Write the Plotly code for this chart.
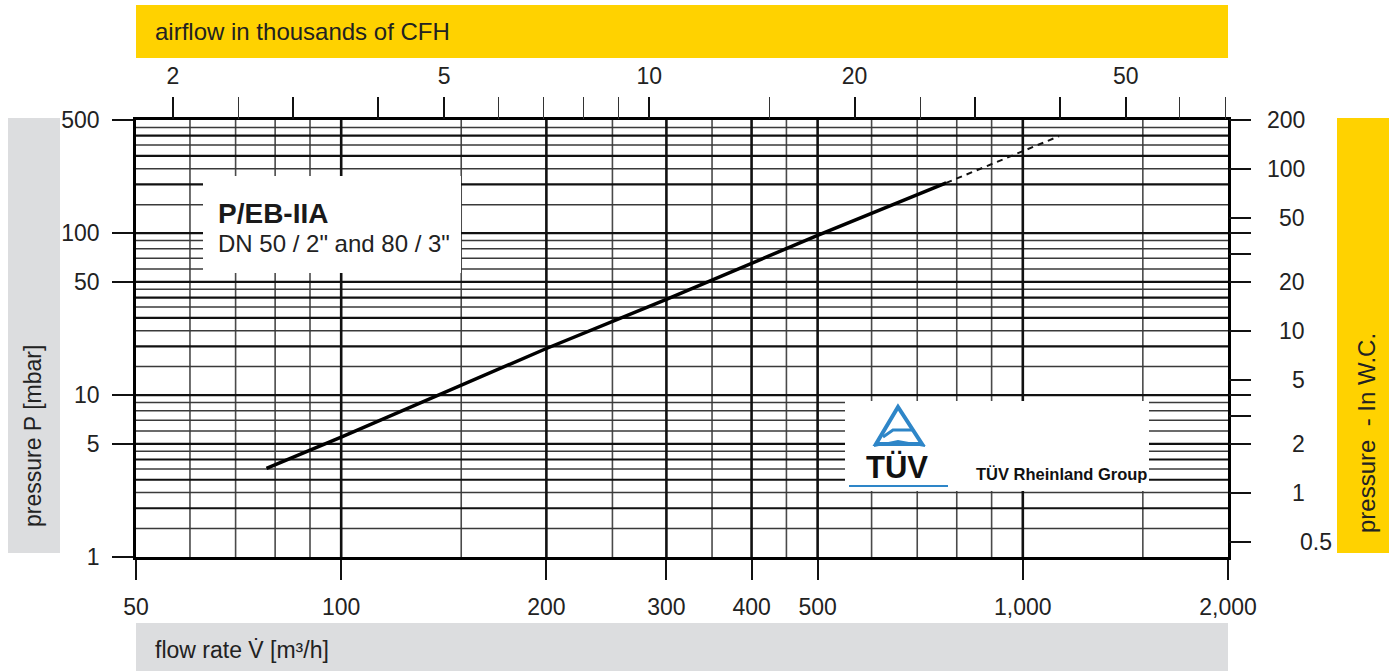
import math
import plotly.graph_objects as go

# ---------------- data ----------------
# flow rate [m3/h] vs pressure drop [mbar]
flow_solid = [77.7, 100, 200, 300, 500, 772]
dp_solid = [3.53, 5.5, 19.4, 39.0, 97.0, 204.5]
flow_dash = [772, 1130]
dp_dash = [204.5, 397]

# bottom axis (m3/h)
x_ticks = [50, 100, 200, 300, 400, 500, 1000, 2000]
x_ticktext = ["50", "100", "200", "300", "400", "500", "1,000", "2,000"]
x_grid_major = [100, 200, 300, 400, 500, 1000]
x_grid_minor = [60, 70, 80, 90, 150, 250, 350, 450, 600, 700, 800, 900, 1500]

# left axis (mbar)
y_ticks = [1, 5, 10, 50, 100, 500]
y_grid_major = [2, 3, 4, 5, 10, 20, 30, 40, 50, 100, 200, 300, 400]
y_grid_minor = [1.5, 2.5, 3.5, 4.5, 6, 7, 8, 9, 15, 25, 35, 45, 60, 70, 80, 90,
                150, 250, 350, 450]

# top axis (thousands of CFH)
top_major = [2, 3, 4, 5, 10, 20, 30, 40, 50]
top_major_text = ["2", "", "", "5", "10", "20", "", "", "50"]
top_minor = [2.5, 6, 7, 8, 9, 15, 25, 60, 70]

# right axis (in W.C.)
right_ticks = [0.4, 0.5, 1, 2, 3, 4, 5, 10, 20, 30, 40, 50, 100, 200]
right_labels = [0.5, 1, 2, 5, 10, 20, 50, 100, 200]

KCFH_PER_M3H = 35.3147 / 1000.0   # thousands of CFH per m3/h
INWC_PER_MBAR = 0.401463

XMIN, XMAX = 50, 2000
YMIN, YMAX = 1, 500

FONT = "Liberation Sans, Arial, sans-serif"
TXT = "#222222"

# pixel helpers (plot area 136..1228 x 120..557)
L, R, T, B = 136, 1228, 120, 557
def PX(px):
    return (px - L) / (R - L)
def PY(py):
    return (B - py) / (B - T)

fig = go.Figure()

def vlines(xs):
    X, Y = [], []
    for v in xs:
        X += [v, v, None]
        Y += [YMIN, YMAX, None]
    return X, Y

def hlines(ys):
    X, Y = [], []
    for v in ys:
        X += [XMIN, XMAX, None]
        Y += [v, v, None]
    return X, Y

X, Y = vlines(x_grid_minor)
fig.add_trace(go.Scatter(x=X, y=Y, mode="lines", line=dict(color="#4a4a4a", width=1.6), hoverinfo="skip"))
X, Y = hlines(y_grid_minor)
fig.add_trace(go.Scatter(x=X, y=Y, mode="lines", line=dict(color="#3a3a3a", width=1.5), hoverinfo="skip"))
X, Y = hlines(y_grid_major)
fig.add_trace(go.Scatter(x=X, y=Y, mode="lines", line=dict(color="#111111", width=2.2), hoverinfo="skip"))
X, Y = vlines(x_grid_major)
fig.add_trace(go.Scatter(x=X, y=Y, mode="lines", line=dict(color="#111111", width=2.6), hoverinfo="skip"))

# characteristic curve
fig.add_trace(go.Scatter(x=flow_solid, y=dp_solid, mode="lines",
                         line=dict(color="#000000", width=3.5), hoverinfo="skip"))
fig.add_trace(go.Scatter(x=flow_dash, y=dp_dash, mode="lines",
                         line=dict(color="#111111", width=2, dash="6px,5px"), hoverinfo="skip"))

# same curve in secondary units (transparent) so the top / right scales exist
flow_kcfh = [f * KCFH_PER_M3H for f in flow_solid]
dp_inwc = [p * INWC_PER_MBAR for p in dp_solid]
clear = dict(color="rgba(0,0,0,0)", width=1)
fig.add_trace(go.Scatter(x=flow_kcfh, y=dp_solid, xaxis="x2", yaxis="y", mode="lines",
                         line=clear, hoverinfo="skip"))
fig.add_trace(go.Scatter(x=flow_kcfh, y=dp_solid, xaxis="x3", yaxis="y", mode="lines",
                         line=clear, hoverinfo="skip"))
fig.add_trace(go.Scatter(x=flow_solid, y=dp_inwc, xaxis="x", yaxis="y2", mode="lines",
                         line=clear, hoverinfo="skip"))

tickfont = dict(family=FONT, size=23, color=TXT)
kcfh_range = [math.log10(XMIN * KCFH_PER_M3H), math.log10(XMAX * KCFH_PER_M3H)]

fig.update_layout(
    width=1389, height=671,
    margin=dict(l=L, r=1389 - R, t=T, b=671 - B),
    paper_bgcolor="white", plot_bgcolor="white",
    showlegend=False,
    xaxis=dict(type="log", range=[math.log10(XMIN), math.log10(XMAX)],
               tickmode="array", tickvals=x_ticks, ticktext=x_ticktext,
               ticks="outside", ticklen=20, tickwidth=2, tickcolor="#111",
               showgrid=False, zeroline=False, showline=True, linecolor="#000",
               linewidth=2.5, mirror=True, tickfont=tickfont, ticklabelstandoff=8),
    yaxis=dict(type="log", range=[math.log10(YMIN), math.log10(YMAX)],
               tickmode="array", tickvals=y_ticks, ticktext=[str(v) for v in y_ticks],
               ticks="outside", ticklen=21, tickwidth=2, tickcolor="#111",
               showgrid=False, zeroline=False, showline=True, linecolor="#000",
               linewidth=2.5, mirror=True, tickfont=tickfont, ticklabelstandoff=8),
    xaxis2=dict(type="log", overlaying="x", side="top",
                range=kcfh_range,
                tickmode="array", tickvals=top_major, ticktext=top_major_text,
                ticks="outside", ticklen=22, tickwidth=2, tickcolor="#111",
                showgrid=False, zeroline=False, showline=False,
                tickfont=tickfont, ticklabelstandoff=4),
    xaxis3=dict(type="log", overlaying="x", side="top",
                range=kcfh_range,
                tickmode="array", tickvals=top_minor, ticktext=["" for _ in top_minor],
                ticks="outside", ticklen=22, tickwidth=1.2, tickcolor="#333",
                showgrid=False, zeroline=False, showline=False),
    yaxis2=dict(type="log", overlaying="y", side="right",
                range=[math.log10(YMIN * INWC_PER_MBAR), math.log10(YMAX * INWC_PER_MBAR)],
                tickmode="array", tickvals=right_ticks, ticktext=["" for _ in right_ticks],
                ticks="outside", ticklen=22, tickwidth=2, tickcolor="#111",
                showgrid=False, zeroline=False, showline=False),
)

shapes = []
annotations = []

def rect(x0, y0, x1, y1, color, layer="above"):
    shapes.append(dict(type="rect", xref="paper", yref="paper",
                       x0=PX(x0), x1=PX(x1), y0=PY(y1), y1=PY(y0),
                       fillcolor=color, line=dict(width=0), layer=layer))

YELLOW = "#FFD200"
GREY = "#DCDDDF"
rect(136, 5, 1228, 58, YELLOW, "below")
rect(8, 118, 60, 553, GREY, "below")
rect(1337, 118, 1389, 553, YELLOW, "below")
rect(136, 623, 1228, 671, GREY, "below")

# white label boxes over the grid
rect(203, 176, 461, 273, "white")
rect(845, 401, 1149, 491, "white")

def ann(text, px, py, size, xanchor="left", yanchor="middle", bold=False, angle=0,
        color=TXT):
    if bold:
        text = "<b>" + text + "</b>"
    annotations.append(dict(text=text, xref="paper", yref="paper", x=PX(px), y=PY(py),
                            xanchor=xanchor, yanchor=yanchor, showarrow=False,
                            textangle=angle, font=dict(family=FONT, size=size, color=color)))

ann("airflow in thousands of CFH", 153, 32, 24)
ann("flow rate V\u0307 [m³/h]", 153, 650, 23)
ann("pressure P [mbar]", 33, 436, 23, xanchor="center", angle=-90)
ann("pressure  - In W.C.", 1366, 433, 24, xanchor="center", angle=-90)
ann("P/EB-IIA", 216, 213, 28, bold=True, color="#1a1a1a")
ann("DN 50 / 2\" and 80 / 3\"", 216, 243, 24)
ann("TÜV", 897, 467, 31, xanchor="center", bold=True, color="#111")
ann("TÜV Rheinland Group", 974, 474, 16.5, bold=True, color="#111")

# right axis labels (right aligned), placed on the in W.C. scale
for v in right_labels:
    if v == 0.5:
        xa, px = "left", 1298
    else:
        xa, px = "right", 1307
    annotations.append(dict(text=str(v), xref="paper", yref="y2", x=PX(px), y=math.log10(v),
                            xanchor=xa, yanchor="middle", showarrow=False,
                            font=tickfont))

# TÜV logo approximations
BLUE = "#2E86C8"
def pth(points, close=False):
    s = "M " + " L ".join(f"{PX(a):.5f},{PY(b):.5f}" for a, b in points)
    return s + (" Z" if close else "")
shapes.append(dict(type="path", xref="paper", yref="paper",
                   path=pth([(898, 407), (876, 444), (922, 444)], close=True),
                   line=dict(color=BLUE, width=4), fillcolor="rgba(0,0,0,0)", layer="above"))
shapes.append(dict(type="path", xref="paper", yref="paper",
                   path=pth([(883, 437), (893, 430), (912, 430)]),
                   line=dict(color=BLUE, width=3), layer="above"))
shapes.append(dict(type="path", xref="paper", yref="paper",
                   path=pth([(874, 446), (898, 441), (925, 446)]),
                   line=dict(color=BLUE, width=2), layer="above"))
shapes.append(dict(type="line", xref="paper", yref="paper",
                   x0=PX(849), x1=PX(948), y0=PY(486), y1=PY(486),
                   line=dict(color=BLUE, width=2), layer="above"))

fig.update_layout(shapes=shapes, annotations=annotations)
fig.write_html("out.html", config={"displayModeBar": False},
               post_script="document.body.style.margin='0';document.body.style.overflow='hidden';")
